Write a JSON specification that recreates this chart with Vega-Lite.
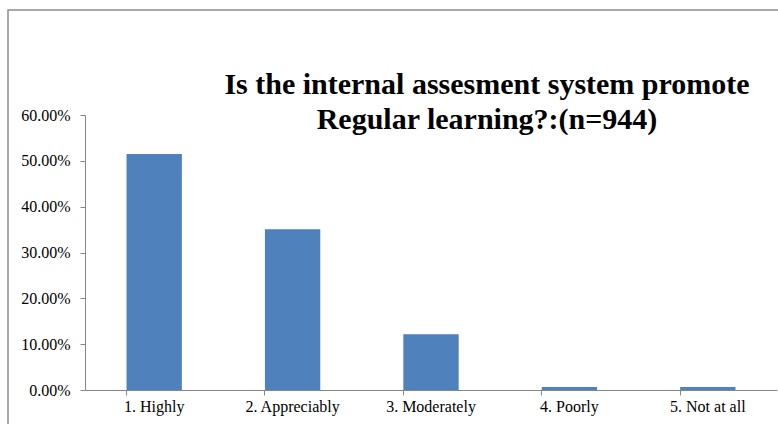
{
  "$schema": "https://vega.github.io/schema/vega-lite/v6.json",
  "autosize": {"type": "none"},
  "padding": {"left": 8, "top": 10, "right": 0, "bottom": 0},
  "width": 772,
  "height": 416,
  "background": "white",
  "title": {
    "text": ["Is the internal assesment system promote", "Regular learning?:(n=944)"],
    "font": "Liberation Serif",
    "fontSize": 30,
    "fontWeight": "bold",
    "color": "black",
    "lineHeight": 35,
    "anchor": "middle",
    "frame": "group",
    "baseline": "alphabetic",
    "offset": 0,
    "dx": 93,
    "dy": 149
  },
  "data": {
    "values": [
      {"category": "1. Highly", "share": 0.5148},
      {"category": "2. Appreciably", "share": 0.3506},
      {"category": "3. Moderately", "share": 0.1218},
      {"category": "4. Poorly", "share": 0.0064},
      {"category": "5. Not at all", "share": 0.0064}
    ]
  },
  "mark": {"type": "bar", "color": "#4F81BD"},
  "encoding": {
    "x": {
      "field": "category",
      "type": "nominal",
      "sort": null,
      "scale": {"range": [77, 769], "paddingInner": 0.6, "paddingOuter": 0.3},
      "axis": {
        "title": null,
        "offset": -36,
        "labelAngle": 0,
        "labelFont": "Liberation Serif",
        "labelFontSize": 16,
        "labelColor": "black",
        "labelPadding": 3,
        "domainColor": "#868686",
        "tickColor": "#868686",
        "tickSize": 5,
        "bandPosition": 0,
        "grid": false
      }
    },
    "y": {
      "field": "share",
      "type": "quantitative",
      "scale": {"domain": [0, 0.6], "range": [380, 105], "nice": false},
      "axis": {
        "title": null,
        "offset": -77,
        "format": ".2%",
        "values": [0, 0.1, 0.2, 0.3, 0.4, 0.5, 0.6],
        "labelFont": "Liberation Serif",
        "labelFontSize": 16,
        "labelColor": "black",
        "labelPadding": 10,
        "domainColor": "#868686",
        "tickColor": "#868686",
        "tickSize": 5,
        "grid": false
      }
    }
  },
  "config": {
    "font": "Liberation Serif",
    "axis": {"labelFont": "Liberation Serif"},
    "view": {"stroke": "#8c8c8c", "strokeWidth": 1.5}
  }
}
